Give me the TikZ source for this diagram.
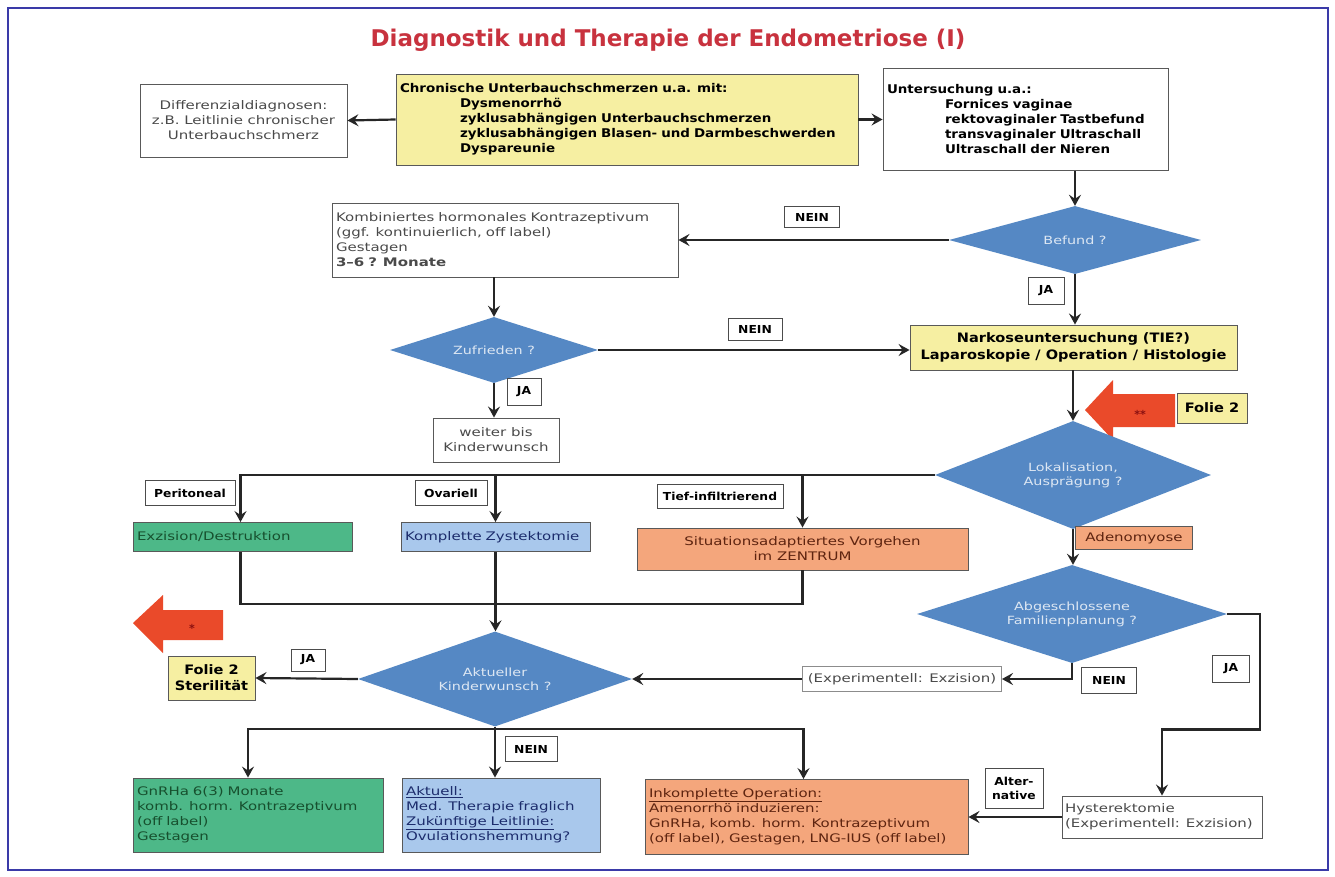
\documentclass[tikz,border=0pt]{standalone}
\usepackage{fontspec}
\setmainfont{DejaVu Sans}
\newfontfamily\wide{DejaVu Sans}[FakeStretch=1.27]
\newfontfamily\wideb{DejaVu Sans}[FakeStretch=1.12]
\usetikzlibrary{shapes.geometric,arrows.meta}
\definecolor{frameblue}{HTML}{3A3AA8}
\definecolor{titlered}{HTML}{C8323E}
\definecolor{yel}{HTML}{F6EFA2}
\definecolor{dia}{HTML}{5588C4}
\definecolor{grn}{HTML}{4DB888}
\definecolor{lbl}{HTML}{A9C8EC}
\definecolor{org}{HTML}{F4A67C}
\definecolor{redarr}{HTML}{EA4A2A}
\definecolor{darkred}{HTML}{8A1010}
\definecolor{txtgray}{HTML}{4A4A4A}
\definecolor{txtgrn}{HTML}{17502E}
\definecolor{txtblu}{HTML}{1C2C6C}
\definecolor{txtorg}{HTML}{5E2410}
\begin{document}
\begin{tikzpicture}[x=1pt,y=-1pt,
  box/.style={draw=black!65,line width=0.9pt,inner sep=4pt,anchor=center,
    font=\wide\fontsize{11.8}{15}\selectfont},
  boldbox/.style={box,font=\wideb\bfseries\fontsize{12}{15}\selectfont},
  lab/.style={draw=black!70,fill=white,line width=0.9pt,inner sep=2pt,
    font=\wideb\bfseries\fontsize{11}{13}\selectfont,align=center},
  dec/.style={diamond,aspect=3,fill=dia,draw=none,inner sep=0pt,align=center,
    text=white!80!dia,font=\wide\fontsize{11.3}{14}\selectfont},
  arr/.style={draw=black!85,line width=2.2pt,-{Stealth[length=11pt,width=12pt,inset=4pt]}},
  line/.style={draw=black!85,line width=2.2pt},
]
\useasboundingbox (0,0) rectangle (1335,877);
\fill[white] (0,0) rectangle (1335,877);
\draw[frameblue,line width=2pt] (8,8) rectangle (1328,870);

\node[text=titlered,font=\bfseries\fontsize{23}{27}\selectfont] (title) at (668,40)
  {Diagnostik und Therapie der Endometriose (I)};

% --- top row
\node[box,text=txtgray,align=center,minimum width=207pt,minimum height=73pt] (diff) at (243.5,120.5)
  {Differenzialdiagnosen:\\z.B. Leitlinie chronischer\\Unterbauchschmerz};
\node[boldbox,fill=yel,text width=454pt,minimum height=91pt,align=left] (chron) at (627,119.5)
  {Chronische Unterbauchschmerzen u.a. mit:\\
   \hspace*{60pt}Dysmenorrhö\\
   \hspace*{60pt}zyklusabhängigen Unterbauchschmerzen\\
   \hspace*{60pt}zyklusabhängigen Blasen- und Darmbeschwerden\\
   \hspace*{60pt}Dyspareunie};
\node[boldbox,text width=277pt,minimum height=102pt,align=left] (unters) at (1025.5,119.5)
  {Untersuchung u.a.:\\
   \hspace*{58pt}Fornices vaginae\\
   \hspace*{58pt}rektovaginaler Tastbefund\\
   \hspace*{58pt}transvaginaler Ultraschall\\
   \hspace*{58pt}Ultraschall der Nieren};

% --- second row
\node[dec,minimum width=252pt,minimum height=68pt] (befund) at (1075,240) {Befund ?};
\node[box,text=txtgray,text width=338pt,minimum height=74pt,align=left] (kbox) at (505,240)
  {Kombiniertes hormonales Kontrazeptivum\\(ggf. kontinuierlich, off label)\\Gestagen\\\textbf{3–6 ? Monate}};
\node[lab,minimum width=55pt,minimum height=21pt] (nein1) at (812,217) {NEIN};
\node[lab,minimum width=36pt,minimum height=27pt] (ja1) at (1046,291) {JA};

% --- third row
\node[boldbox,fill=yel,align=center,minimum width=327pt,minimum height=45pt,
  font=\wideb\bfseries\fontsize{13}{17}\selectfont] (nark) at (1073.5,347.5)
  {Narkoseuntersuchung (TIE?)\\Laparoskopie / Operation / Histologie};
\node[dec,minimum width=208pt,minimum height=66pt] (zuf) at (494,350) {Zufrieden ?};
\node[lab,minimum width=54pt,minimum height=22pt] (nein2) at (755,329) {NEIN};
\node[lab,minimum width=34pt,minimum height=27pt] (ja2) at (524,392) {JA};
\node[box,text=txtgray,align=center,minimum width=126pt,minimum height=44pt] (weiter) at (496,440)
  {weiter bis\\Kinderwunsch};

% --- red arrow top right
\fill[redarr] (1085,410) -- (1113,380) -- (1113,394) -- (1175,394) -- (1175,427)
  -- (1113,427) -- (1113,440) -- cycle;
\node[text=darkred,font=\bfseries\fontsize{11}{11}\selectfont] (st2) at (1140,414) {**};
\node[boldbox,fill=yel,minimum width=70pt,minimum height=30pt,inner sep=2pt,
  font=\wideb\bfseries\fontsize{13}{15}\selectfont] (folie1) at (1212,408) {Folie 2};

% --- Lokalisation
\node[dec,minimum width=276pt,minimum height=108pt] (lok) at (1073,475) {Lokalisation,\\Ausprägung ?};
\node[lab,minimum width=90pt,minimum height=25pt] (perit) at (190,493) {Peritoneal};
\node[lab,minimum width=72pt,minimum height=25pt] (ovar) at (451,493) {Ovariell};
\node[lab,minimum width=126pt,minimum height=24pt] (tief) at (720,496) {Tief-infiltrierend};

\node[box,fill=grn,text=txtgrn,text width=211pt,minimum height=29pt,align=left] (exc) at (242.5,537) {Exzision/Destruktion};
\node[box,fill=lbl,text=txtblu,text width=181pt,minimum height=29pt,align=left] (zys) at (495.5,537) {Komplette Zystektomie};
\node[box,fill=org,text=txtorg,align=center,minimum width=331pt,minimum height=42pt] (sit) at (802.5,549)
  {Situationsadaptiertes Vorgehen\\im ZENTRUM};
\node[box,fill=org,text=txtorg,minimum width=117pt,minimum height=23pt,inner sep=2pt] (adeno) at (1134,538) {Adenomyose};

\node[dec,minimum width=310pt,minimum height=98pt] (abg) at (1072,614) {Abgeschlossene\\Familienplanung ?};

% --- Aktueller Kinderwunsch row
\fill[redarr] (133,623) -- (163,595) -- (163,610) -- (223,610) -- (223,640)
  -- (163,640) -- (163,653) -- cycle;
\node[text=darkred,font=\bfseries\fontsize{11}{11}\selectfont] (st1) at (192,628) {*};
\node[dec,minimum width=274pt,minimum height=95pt] (akt) at (495,679) {Aktueller\\Kinderwunsch ?};
\node[boldbox,fill=yel,align=center,minimum width=87pt,minimum height=44pt,inner sep=2pt,
  font=\wideb\bfseries\fontsize{13}{16}\selectfont] (ster) at (211.5,678)
  {Folie 2\\Sterilität};
\node[lab,minimum width=34pt,minimum height=22pt] (ja3) at (308,660) {JA};
\node[box,text=txtgray,draw=black!45,minimum width=199pt,minimum height=25pt,inner sep=2pt] (exper) at (902,679)
  {(Experimentell: Exzision)};
\node[lab,minimum width=55pt,minimum height=26pt] (nein3) at (1109,680) {NEIN};
\node[lab,minimum width=37pt,minimum height=27pt] (ja4) at (1231,669) {JA};

% --- bottom row
\node[lab,minimum width=52pt,minimum height=25pt] (nein4) at (531,749) {NEIN};
\node[box,fill=grn,text=txtgrn,text width=242pt,minimum height=74pt,align=left] (gnrh) at (258,815)
  {GnRHa 6(3) Monate\\komb. horm. Kontrazeptivum\\(off label)\\Gestagen};
\node[box,fill=lbl,text=txtblu,text width=190pt,minimum height=74pt,align=left] (aktu) at (501,815)
  {\underline{Aktuell:}\\Med. Therapie fraglich\\\underline{Zukünftige Leitlinie:}\\Ovulationshemmung?};
\node[box,fill=org,text=txtorg,text width=315pt,minimum height=75pt,align=left] (inko) at (806.5,817)
  {\underline{Inkomplette Operation:}\\Amenorrhö induzieren:\\GnRHa, komb. horm. Kontrazeptivum\\(off label), Gestagen, LNG-IUS (off label)};
\node[box,text=txtgray,text width=194pt,minimum height=42pt,align=left,inner sep=3pt] (hyst) at (1162,817)
  {Hysterektomie\\(Experimentell: Exzision)};
\node[lab,minimum width=58pt,minimum height=40pt,font=\wideb\bfseries\fontsize{11}{14}\selectfont] (alt) at (1014,788) {Alter-\\native};

% --- connectors
\draw[arr] (chron.west) -- (diff.east);
\draw[arr] (chron.east) -- (chron.east -| unters.west);
\draw[arr] (befund.north |- unters.south) -- (befund.north);
\draw[arr] (befund.west) -- (befund.west -| kbox.east);
\draw[arr] (befund.south) -- (befund.south |- nark.north);
\draw[arr] (zuf.north |- kbox.south) -- (zuf.north);
\draw[arr] (zuf.east) -- (zuf.east -| nark.west);
\draw[arr] (zuf.south) -- (zuf.south |- weiter.north);
\draw[arr] (lok.north |- nark.south) -- (lok.north);
\draw[arr] (lok.west) -| ([xshift=-2pt]exc.north);
\draw[arr] (zys.north |- lok.west) -- (zys.north);
\draw[arr] (sit.north |- lok.west) -- (sit.north);
\draw[arr] (lok.south) -- (lok.south |- abg.north);
\draw[line] ([xshift=-2pt]exc.south) -- ++(0,52) -| (sit.south);
\draw[arr] (zys.south) -- (zys.south |- akt.north);
\draw[arr] (akt.west) -- (ster.east);
\draw[arr] (abg.south) |- (exper.east);
\draw[arr] (exper.west) -- (akt.east);
\draw[arr] (abg.east) -- ++(33,0) |- ([yshift=66pt]hyst.north) -- (hyst.north);
\draw[arr] (hyst.west) -- (hyst.west -| inko.east);
\draw[arr] ([yshift=-2pt]akt.south) -| ([xshift=-10pt]gnrh.north);
\draw[arr] (akt.south) -- (akt.south |- aktu.north);
\draw[arr] ([yshift=-2pt]akt.south) -| ([xshift=-3pt]inko.north);
\end{tikzpicture}
\end{document}
